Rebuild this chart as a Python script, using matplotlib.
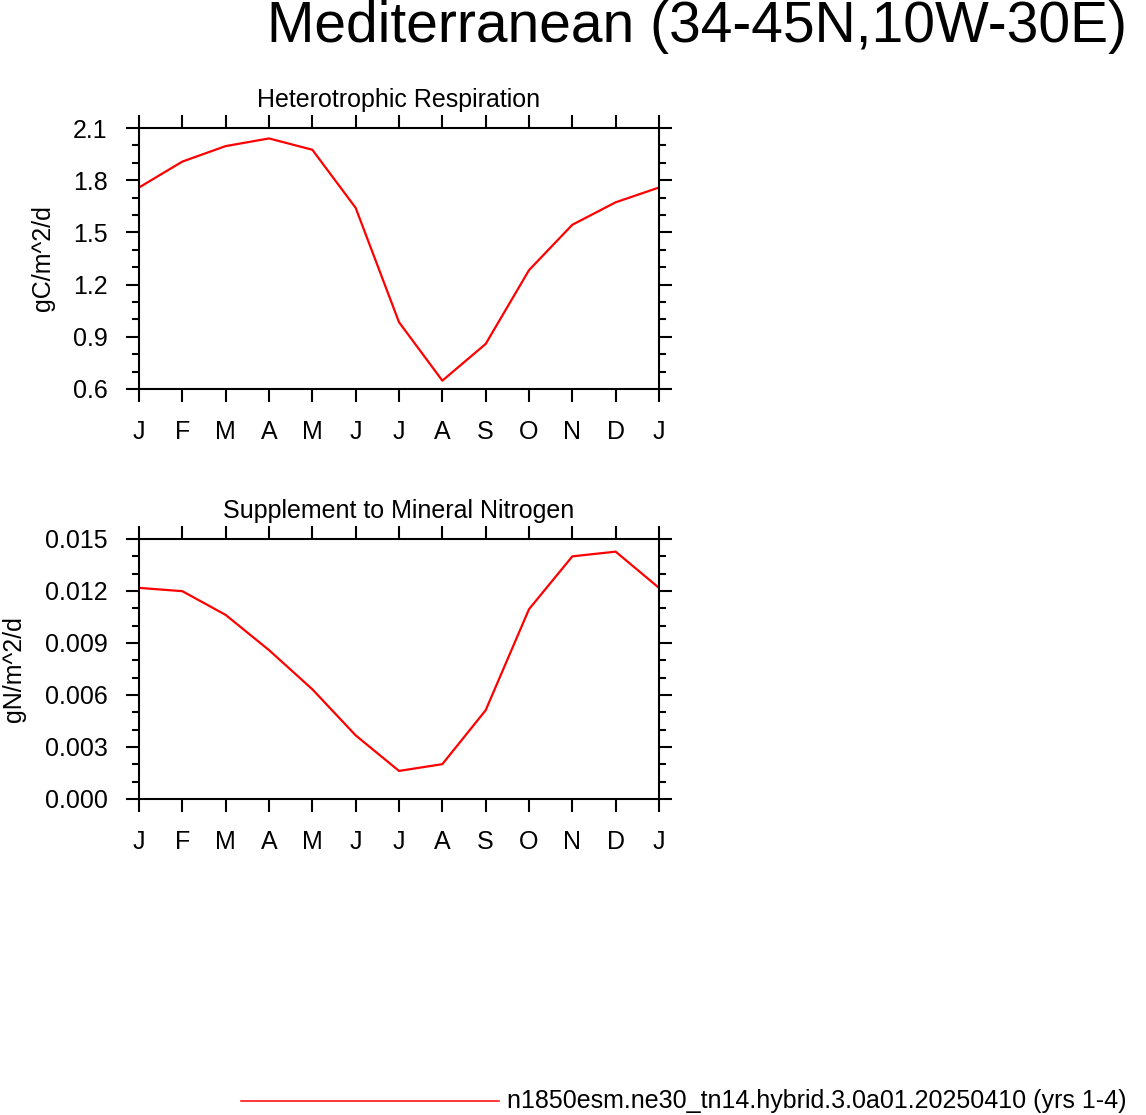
import matplotlib
matplotlib.use("Agg")
import matplotlib.pyplot as plt
from matplotlib.lines import Line2D
from matplotlib.ticker import MultipleLocator

plt.rcParams['font.family'] = ['Liberation Sans', 'DejaVu Sans']

months = ["J", "F", "M", "A", "M", "J", "J", "A", "S", "O", "N", "D", "J"]
hr_values = [1.758, 1.907, 1.996, 2.040, 1.975, 1.641, 0.984, 0.648, 0.859,
             1.283, 1.544, 1.673, 1.758]
smn_values = [0.01218, 0.01199, 0.01062, 0.00859, 0.00633, 0.00367, 0.00162,
              0.00201, 0.00512, 0.01095, 0.01400, 0.01427, 0.01218]
panel_titles = ["Heterotrophic Respiration", "Supplement to Mineral Nitrogen"]
units = ["gC/m^2/d", "gN/m^2/d"]
ylims = [(0.6, 2.1), (0.0, 0.015)]
ymajor = [0.3, 0.003]
yminor = [0.1, 0.001]
yfmt = ["{:.1f}", "{:.3f}"]
main_title = "Mediterranean (34-45N,10W-30E)"
legend_label = "n1850esm.ne30_tn14.hybrid.3.0a01.20250410 (yrs 1-4)"

W, H = 1146, 1115
fig = plt.figure(figsize=(W / 100, H / 100), dpi=100)

def px_axes(left, top, right, bottom):
    return fig.add_axes([left / W, 1 - bottom / H, (right - left) / W, (bottom - top) / H])

boxes = [(139, 128, 659, 389), (139, 539, 659, 799)]
series = [hr_values, smn_values]
ylab_right = [55, 26]

for i in range(2):
    ax = px_axes(*boxes[i])
    x = list(range(len(months)))
    ax.plot(x, series[i], color='red', lw=1.6)
    ax.set_xlim(0, 12)
    ax.set_ylim(*ylims[i])
    ax.set_xticks(x)
    ax.set_xticklabels(months)
    ax.yaxis.set_major_locator(MultipleLocator(ymajor[i]))
    ax.yaxis.set_minor_locator(MultipleLocator(yminor[i]))
    ax.set_yticklabels([yfmt[i].format(v) for v in ax.get_yticks()])
    ax.set_ylim(*ylims[i])
    ax.tick_params(which='both', direction='out', top=True, right=True, width=1.5,
                   labelsize=18)
    ax.tick_params(which='major', length=9.5)
    ax.tick_params(which='minor', length=5)
    ax.tick_params(axis='x', pad=13)
    ax.tick_params(axis='y', pad=13)
    for s in ax.spines.values():
        s.set_linewidth(1.5)
    ax.set_title(panel_titles[i], fontsize=18, pad=15)
    ax.set_ylabel(units[i], fontsize=18)
    ax.yaxis.set_label_coords((ylab_right[i] - 139) / 520, 0.5)

fig.text(1127 / W, 1 - 42 / H, main_title, ha='right', va='baseline', fontsize=41)

ly = 1 - 1101 / H
fig.add_artist(Line2D([241 / W, 499 / W], [ly, ly], transform=fig.transFigure,
                      color='red', lw=1.1))
fig.text(507 / W, ly, legend_label, ha='left', va='center', fontsize=18)

fig.savefig("out.png", dpi=100)
